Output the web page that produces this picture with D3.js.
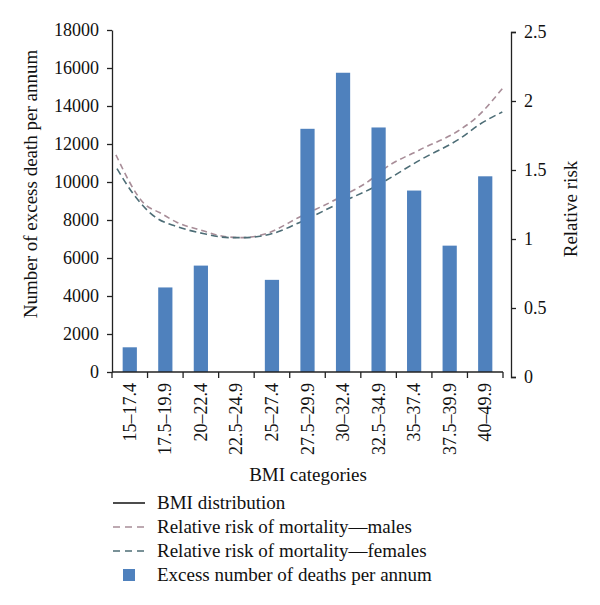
<!DOCTYPE html>
<html lang="en">
<head>
    <meta charset="UTF-8">
    <title>Excess deaths and relative risk by BMI category</title>
    <script src="https://d3js.org/d3.v7.min.js"></script>
    <style>
        body {
            margin: 0;
            background: #fff;
        }
        .axis path, .axis line {
            stroke: #222;
            stroke-width: 1.3px;
        }
    </style>
</head>
<body>
    <div id="chart"></div>

    <script>
        // BMI categories (x axis)
        const categories = ["15\u201317.4", "17.5\u201319.9", "20\u201322.4", "22.5\u201324.9", "25\u201327.4",
            "27.5\u201329.9", "30\u201332.4", "32.5\u201334.9", "35\u201337.4", "37.5\u201339.9", "40\u201349.9"];

        // excess number of deaths per annum (bars, left axis)
        const excessDeaths = [1300, 4450, 5600, 0, 4850, 12800, 15750, 12870, 9550, 6650, 10300];

        // relative risk curves (right axis); position is in category units (0 = left edge, 11 = right edge)
        const malesPos  = [0.11, 0.93, 1.35, 1.83, 2.56, 3.12, 3.68, 4.35, 5.28, 6.40, 7.33, 7.61, 8.65, 9.78, 10.25, 10.98];
        const malesRisk = [1.61, 1.25, 1.19, 1.12, 1.06, 1.02, 1.01, 1.04, 1.16, 1.30, 1.44, 1.50, 1.645, 1.79, 1.88, 2.09];
        const femalesPos  = [0.14, 0.59, 1.21, 1.83, 2.56, 3.31, 3.68, 4.52, 5.28, 6.40, 7.33, 8.65, 9.86, 10.34, 10.98];
        const femalesRisk = [1.51, 1.33, 1.16, 1.09, 1.04, 1.01, 1.01, 1.04, 1.12, 1.26, 1.37, 1.57, 1.74, 1.83, 1.92];

        const leftTicks = d3.range(0, 18001, 2000);
        const rightTicks = [0, 0.5, 1, 1.5, 2, 2.5];

        const legendItems = [
            { label: "BMI distribution", type: "solid", color: "#111" },
            { label: "Relative risk of mortality\u2014males", type: "dash", color: "#a88d98" },
            { label: "Relative risk of mortality\u2014females", type: "dash", color: "#4d6d76" },
            { label: "Excess number of deaths per annum", type: "box", color: "#4f81bd" }
        ];

        const width = 600, height = 605;
        const font = "'Liberation Serif'";

        const svg = d3.select("#chart")
            .append("svg")
            .attr("width", width)
            .attr("height", height);

        const x = d3.scaleBand()
            .domain(categories)
            .range([112, 503])
            .paddingInner(0.6)
            .paddingOuter(0.3);

        // continuous scale across the same width for the curves
        const xPos = d3.scaleLinear().domain([0, 11]).range([112, 503]);

        const yLeft = d3.scaleLinear().domain([0, 18000]).range([372, 30]);
        const yRight = d3.scaleLinear().domain([0, 2.5]).range([377, 32]);

        // relative risk lines (behind bars)
        const line = d3.line()
            .x(d => xPos(d[0]))
            .y(d => yRight(d[1]))
            .curve(d3.curveMonotoneX);

        svg.append("path")
            .datum(d3.zip(malesPos, malesRisk))
            .attr("d", line)
            .attr("fill", "none")
            .attr("stroke", legendItems[1].color)
            .attr("stroke-width", 1.6)
            .attr("stroke-dasharray", "6,4");

        svg.append("path")
            .datum(d3.zip(femalesPos, femalesRisk))
            .attr("d", line)
            .attr("fill", "none")
            .attr("stroke", legendItems[2].color)
            .attr("stroke-width", 1.6)
            .attr("stroke-dasharray", "7,4");

        // bars
        svg.selectAll("rect.bar")
            .data(excessDeaths)
            .enter()
            .append("rect")
            .attr("class", "bar")
            .attr("x", (d, i) => x(categories[i]))
            .attr("width", x.bandwidth())
            .attr("y", d => yLeft(d))
            .attr("height", d => yLeft(0) - yLeft(d))
            .attr("fill", "#4f81bd");

        // left axis
        const gLeft = svg.append("g")
            .attr("class", "axis")
            .attr("transform", "translate(112,0)")
            .call(d3.axisLeft(yLeft).tickValues(leftTicks).tickFormat(d3.format("d"))
                .tickSize(5).tickSizeOuter(0).tickPadding(8));
        gLeft.selectAll("text")
            .style("font-family", font)
            .style("font-size", "18px")
            .style("fill", "#111");

        // right axis
        const gRight = svg.append("g")
            .attr("class", "axis")
            .attr("transform", "translate(511,0)")
            .call(d3.axisRight(yRight).tickValues(rightTicks).tickFormat(d => String(d))
                .tickSize(5).tickSizeOuter(5).tickPadding(8));
        gRight.selectAll("text")
            .style("font-family", font)
            .style("font-size", "18px")
            .style("fill", "#111");

        // bottom axis
        const gBottom = svg.append("g")
            .attr("class", "axis")
            .attr("transform", "translate(0,372)");
        gBottom.append("line")
            .attr("x1", 112).attr("x2", 503)
            .attr("stroke", "#222").attr("stroke-width", 1.3);
        gBottom.selectAll("line.tick")
            .data(d3.range(0, 12))
            .enter()
            .append("line")
            .attr("class", "tick")
            .attr("x1", d => xPos(d)).attr("x2", d => xPos(d))
            .attr("y1", 0).attr("y2", 6)
            .attr("stroke", "#222").attr("stroke-width", 1.3);
        gBottom.selectAll("text.cat")
            .data(categories)
            .enter()
            .append("text")
            .attr("class", "cat")
            .attr("transform", d => `translate(${x(d) + x.bandwidth() / 2 + 6},11) rotate(-90)`)
            .attr("text-anchor", "end")
            .style("font-family", font)
            .style("font-size", "18px")
            .style("fill", "#111")
            .text(d => d);

        // axis titles
        const title = (sel, size) => sel
            .attr("text-anchor", "middle")
            .style("font-family", font)
            .style("font-size", size)
            .style("fill", "#111");

        svg.append("text")
            .attr("transform", "translate(37,184) rotate(-90)")
            .call(title, "19px")
            .text("Number of excess death per annum");

        svg.append("text")
            .attr("transform", "translate(577,209) rotate(-90)")
            .call(title, "19px")
            .text("Relative risk");

        svg.append("text")
            .attr("x", 308)
            .attr("y", 481)
            .call(title, "19px")
            .text("BMI categories");

        // legend
        const legend = svg.append("g").attr("transform", "translate(113,503)");
        const rows = legend.selectAll("g")
            .data(legendItems)
            .enter()
            .append("g")
            .attr("transform", (d, i) => `translate(0,${i * 24})`);

        rows.filter(d => d.type !== "box")
            .append("line")
            .attr("x1", 0).attr("x2", 32)
            .attr("stroke", d => d.color)
            .attr("stroke-width", 1.5)
            .attr("stroke-dasharray", d => d.type === "dash" ? "7,5" : null);

        rows.filter(d => d.type === "box")
            .append("rect")
            .attr("x", 10).attr("y", -6)
            .attr("width", 12).attr("height", 12)
            .attr("fill", d => d.color);

        rows.append("text")
            .attr("x", 44)
            .attr("y", 6)
            .style("font-family", font)
            .style("font-size", "19px")
            .style("fill", "#111")
            .text(d => d.label);
    </script>
</body>
</html>
